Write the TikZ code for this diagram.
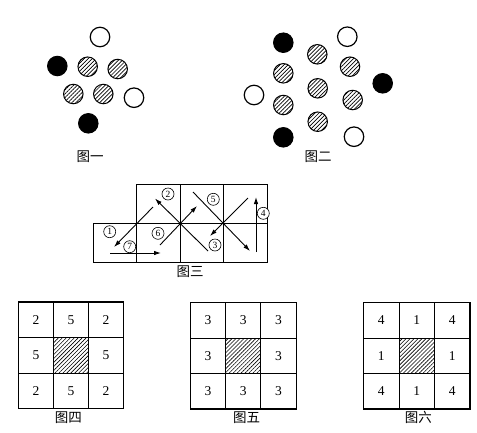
\documentclass[tikz,border=0pt]{standalone}
\usepackage{fontspec}
\setmainfont{Liberation Serif}
\newfontfamily\cjk{Noto Sans CJK SC}
\usetikzlibrary{patterns.meta,arrows.meta}
\begin{document}
\begin{tikzpicture}[x=1pt,y=-1pt,
  dotbase/.style={circle,inner sep=0pt,minimum size=19.5pt,line width=1pt,draw=black},
  hatchdot/.style={dotbase,pattern={Lines[angle=45,distance=2.8pt,line width=0.7pt]}},
  blackdot/.style={dotbase,fill=black},
  opendot/.style={dotbase,line width=1.2pt,fill=white},
  figcap/.style={font=\cjk\fontsize{13.5}{13.5}\selectfont,inner sep=0pt},
  gridline/.style={line width=1pt},
  outerline/.style={line width=1.4pt},
  arr/.style={-{Latex[length=7pt,width=4.5pt]},line width=0.9pt},
  cnum/.style={circle,draw,fill=white,inner sep=0pt,minimum size=12pt,line width=0.6pt,font=\fontsize{9.5}{9.5}\selectfont},
  cellnum/.style={font=\fontsize{13.5}{13.5}\selectfont,inner sep=0pt},
  hatchcell/.style={pattern={Lines[angle=45,distance=2.8pt,line width=0.6pt]}}
]
\useasboundingbox (0,0) rectangle (477,432);

% ---------- Figure 1 ----------
\node[opendot]  (f1o1) at (100,37) {};
\node[blackdot] (f1b1) at (57.3,66) {};
\node[hatchdot] (f1h1) at (87.7,66.7) {};
\node[hatchdot] (f1h2) at (117.7,69) {};
\node[hatchdot] (f1h3) at (73.3,94) {};
\node[hatchdot] (f1h4) at (103.3,94) {};
\node[opendot]  (f1o2) at (134,97.7) {};
\node[blackdot] (f1b2) at (88.3,123.3) {};
\node[figcap] (cap1) at (90,157) {图一};

% ---------- Figure 2 ----------
\node[blackdot] (f2b1) at (283.3,42.7) {};
\node[opendot]  (f2o1) at (347.3,36.7) {};
\node[hatchdot] (f2h1) at (317.3,54.3) {};
\node[hatchdot] (f2h2) at (350,66.7) {};
\node[hatchdot] (f2h3) at (283.3,73.3) {};
\node[hatchdot] (f2h4) at (317.7,88.3) {};
\node[hatchdot] (f2h5) at (352.7,100) {};
\node[hatchdot] (f2h6) at (283.3,105) {};
\node[hatchdot] (f2h7) at (317.7,121.7) {};
\node[blackdot] (f2b2) at (382.7,83.3) {};
\node[opendot]  (f2o2) at (254,95) {};
\node[blackdot] (f2b3) at (283.3,137.3) {};
\node[opendot]  (f2o3) at (354,136.7) {};
\node[figcap] (cap2) at (318,157) {图二};

% ---------- Figure 3 ----------
\draw[gridline] (93,223) rectangle (267.4,262);
\draw[gridline] (136.6,184) rectangle (267.4,223);
\foreach \xx in {136.6,180.2,223.8}{\draw[gridline] (\xx,184) -- (\xx,262);}

\coordinate (a1s) at (153,207);  \coordinate (a1e) at (114,247);
\coordinate (a2s) at (208,251);  \coordinate (a2e) at (155,198.5);
\coordinate (a6s) at (160,245);  \coordinate (a6e) at (197,206);
\coordinate (a5s) at (193,192);  \coordinate (a5e) at (250,251);
\coordinate (a3s) at (248,198);  \coordinate (a3e) at (210,236);
\coordinate (a4s) at (256,252);  \coordinate (a4e) at (256,197);
\coordinate (a7s) at (110,253);  \coordinate (a7e) at (161,253);

\draw[arr] (a1s) -- (a1e);
\draw[arr] (a2s) -- (a2e);
\draw[arr] (a6s) -- (a6e);
\draw[arr] (a5s) -- (a5e);
\draw[arr] (a3s) -- (a3e);
\draw[arr] (a4s) -- (a4e);
\draw[arr] (a7s) -- (a7e);

\node[cnum] (n1) at (109.7,231.7) {1};
\node[cnum] (n2) at (168,194) {2};
\node[cnum] (n3) at (215,245) {3};
\node[cnum] (n4) at (263.3,213.3) {4};
\node[cnum] (n5) at (213.3,199.3) {5};
\node[cnum] (n6) at (158,233.3) {6};
\node[cnum] (n7) at (129.7,246.7) {7};
\node[figcap] (cap3) at (190,272) {图三};

% ---------- Figures 4, 5, 6 ----------
\foreach \gx/\gy/\cw/\ch/\tag/\va/\vb in {18.5/302/35/35.5/g4/2/5, 190.3/302.5/35.3/35.5/g5/3/3, 363.5/302.5/35.5/35.5/g6/4/1}{
  \fill[hatchcell] (\gx+\cw,\gy+\ch) rectangle (\gx+2*\cw,\gy+2*\ch);
  \foreach \k in {1,2}{
    \draw[gridline] (\gx+\k*\cw,\gy) -- (\gx+\k*\cw,\gy+3*\ch);
    \draw[gridline] (\gx,\gy+\k*\ch) -- (\gx+3*\cw,\gy+\k*\ch);
  }
  \draw[outerline] (\gx,\gy) rectangle (\gx+3*\cw,\gy+3*\ch);
  \node[cellnum] (\tag-11) at (\gx+0.5*\cw,\gy+0.5*\ch) {\va};
  \node[cellnum] (\tag-12) at (\gx+1.5*\cw,\gy+0.5*\ch) {\vb};
  \node[cellnum] (\tag-13) at (\gx+2.5*\cw,\gy+0.5*\ch) {\va};
  \node[cellnum] (\tag-21) at (\gx+0.5*\cw,\gy+1.5*\ch) {\vb};
  \node[cellnum] (\tag-23) at (\gx+2.5*\cw,\gy+1.5*\ch) {\vb};
  \node[cellnum] (\tag-31) at (\gx+0.5*\cw,\gy+2.5*\ch) {\va};
  \node[cellnum] (\tag-32) at (\gx+1.5*\cw,\gy+2.5*\ch) {\vb};
  \node[cellnum] (\tag-33) at (\gx+2.5*\cw,\gy+2.5*\ch) {\va};
}
\node[figcap] (cap4) at (68.3,417.5) {图四};
\node[figcap] (cap5) at (246.7,417.5) {图五};
\node[figcap] (cap6) at (418.3,417.5) {图六};
\end{tikzpicture}
\end{document}
